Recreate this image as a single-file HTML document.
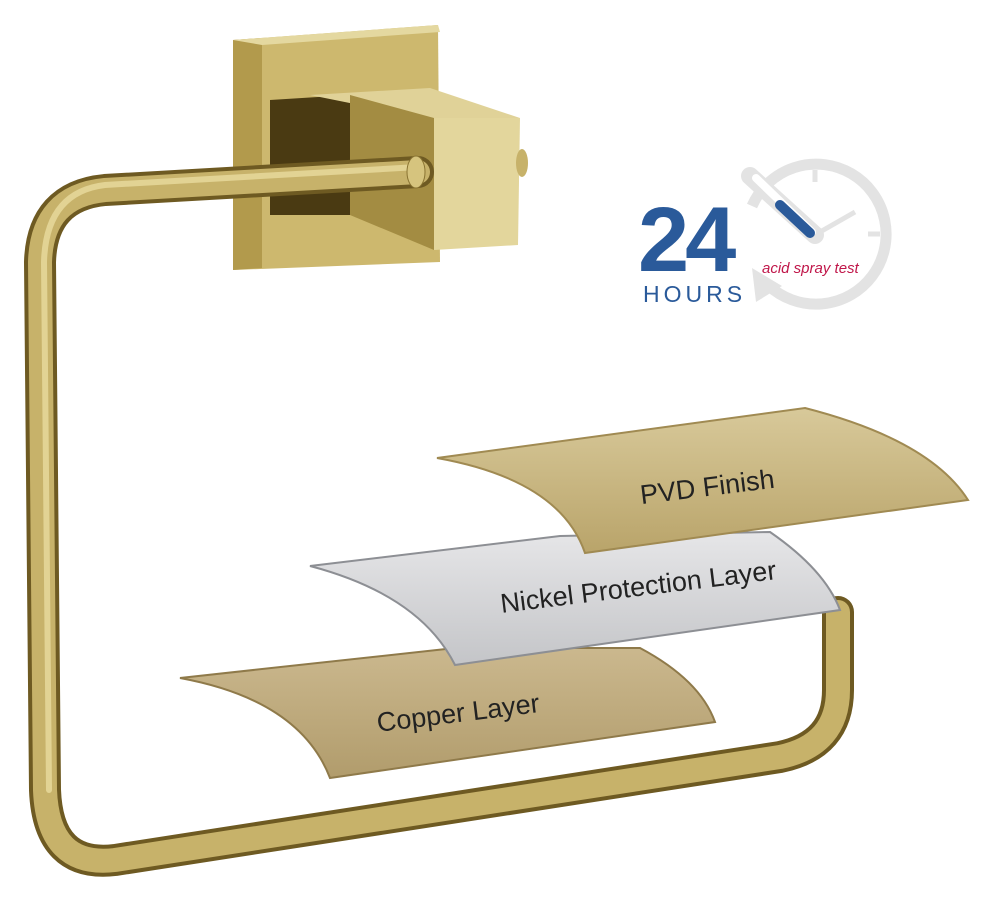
<!DOCTYPE html>
<html><head><meta charset="utf-8"><style>
html,body{margin:0;padding:0;background:#fff;}
svg{display:block;}
text{font-family:"Liberation Sans",sans-serif;}
</style></head><body>
<svg width="990" height="912" viewBox="0 0 990 912" xmlns="http://www.w3.org/2000/svg">
<defs>
<linearGradient id="pvd" x1="0" y1="0" x2="0" y2="1">
<stop offset="0" stop-color="#d8c99a"/><stop offset="1" stop-color="#b9a46a"/>
</linearGradient>
<linearGradient id="nick" x1="0" y1="0" x2="0" y2="1">
<stop offset="0" stop-color="#e6e6e8"/><stop offset="1" stop-color="#c4c5c8"/>
</linearGradient>
<linearGradient id="cop" x1="0" y1="0" x2="0" y2="1">
<stop offset="0" stop-color="#cbb88e"/><stop offset="1" stop-color="#b19c6c"/>
</linearGradient>
</defs>

<!-- mount backplate -->
<polygon points="233,40 438,25 440,262 233,270" fill="#cdb86e"/>
<polygon points="233,40 262,38 262,268 233,270" fill="#b29a4c"/>
<polygon points="233,40 438,25 440,32 262,45" fill="#e4d8a0"/>
<polygon points="270,100 350,95 350,215 270,215" fill="#4a3a12"/>
<!-- cube -->
<polygon points="310,95 430,88 520,118 434,120" fill="#e0d298"/>
<polygon points="350,95 434,118 434,250 350,215" fill="#a38c42"/>
<polygon points="434,118 520,118 518,245 434,250" fill="#e3d69c"/>
<ellipse cx="522" cy="163" rx="6" ry="14" fill="#c7b26a"/>

<!-- ring -->
<path d="M418 172 L105 190 Q42 196 40 262 L45 790 Q48 868 115 860 L780 757 Q838 745 838 690 L838 612" fill="none" stroke="#6e5a22" stroke-width="32" stroke-linecap="round"/>
<path d="M418 172 L105 190 Q42 196 40 262 L45 790 Q48 868 115 860 L780 757 Q838 745 838 690 L838 612" fill="none" stroke="#c7b26a" stroke-width="24" stroke-linecap="round"/>
<path d="M418 167 L105 185 Q46 192 44 262 L49 790" fill="none" stroke="#e2d394" stroke-width="6" stroke-linecap="round"/>
<ellipse cx="416" cy="172" rx="9" ry="16" fill="#d6c47e" stroke="#8a7432" stroke-width="1"/>

<!-- badge -->
<path d="M768 285 A70 70 0 1 0 752 206" fill="none" stroke="#e3e3e3" stroke-width="11"/>
<path d="M752 268 L756 302 L782 286 Z" fill="#e3e3e3"/>
<line x1="750" y1="176" x2="815" y2="235" stroke="#e3e3e3" stroke-width="18" stroke-linecap="round"/>
<line x1="756" y1="178" x2="812" y2="232" stroke="#fff" stroke-width="8" stroke-linecap="round"/>
<line x1="780" y1="205" x2="810" y2="233" stroke="#2a5a9a" stroke-width="10" stroke-linecap="round"/>
<line x1="820" y1="232" x2="855" y2="212" stroke="#e3e3e3" stroke-width="5"/>
<line x1="815" y1="170" x2="815" y2="182" stroke="#e3e3e3" stroke-width="5"/>
<line x1="868" y1="234" x2="880" y2="234" stroke="#e3e3e3" stroke-width="5"/>
<text x="638" y="271" font-size="92" font-weight="bold" fill="#2a5a9a" letter-spacing="-4">24</text>
<text x="643" y="302" font-size="23" fill="#2a5a9a" letter-spacing="4">HOURS</text>
<text x="762" y="273" font-size="15" font-style="italic" fill="#c0174a">acid spray test</text>

<!-- copper -->
<path d="M180 678 L455 648 L640 648 Q700 680 715 722 L330 778 Q300 700 180 678 Z" fill="url(#cop)" stroke="#8f7a4a" stroke-width="2"/>
<text x="458" y="722" font-size="27" fill="#222" text-anchor="middle" transform="rotate(-7 458 712)">Copper Layer</text>
<!-- nickel -->
<path d="M310 566 L560 536 L770 532 Q825 570 840 610 L455 665 Q420 595 310 566 Z" fill="url(#nick)" stroke="#8d8f94" stroke-width="2"/>
<text x="638" y="596" font-size="27" fill="#222" text-anchor="middle" transform="rotate(-7 638 585)">Nickel Protection Layer</text>
<!-- pvd -->
<path d="M437 458 L805 408 Q930 440 968 500 L585 553 Q560 480 437 458 Z" fill="url(#pvd)" stroke="#a08a52" stroke-width="2"/>
<text x="707" y="496" font-size="27" fill="#222" text-anchor="middle" transform="rotate(-7 707 485)">PVD Finish</text>
</svg>
</body></html>
